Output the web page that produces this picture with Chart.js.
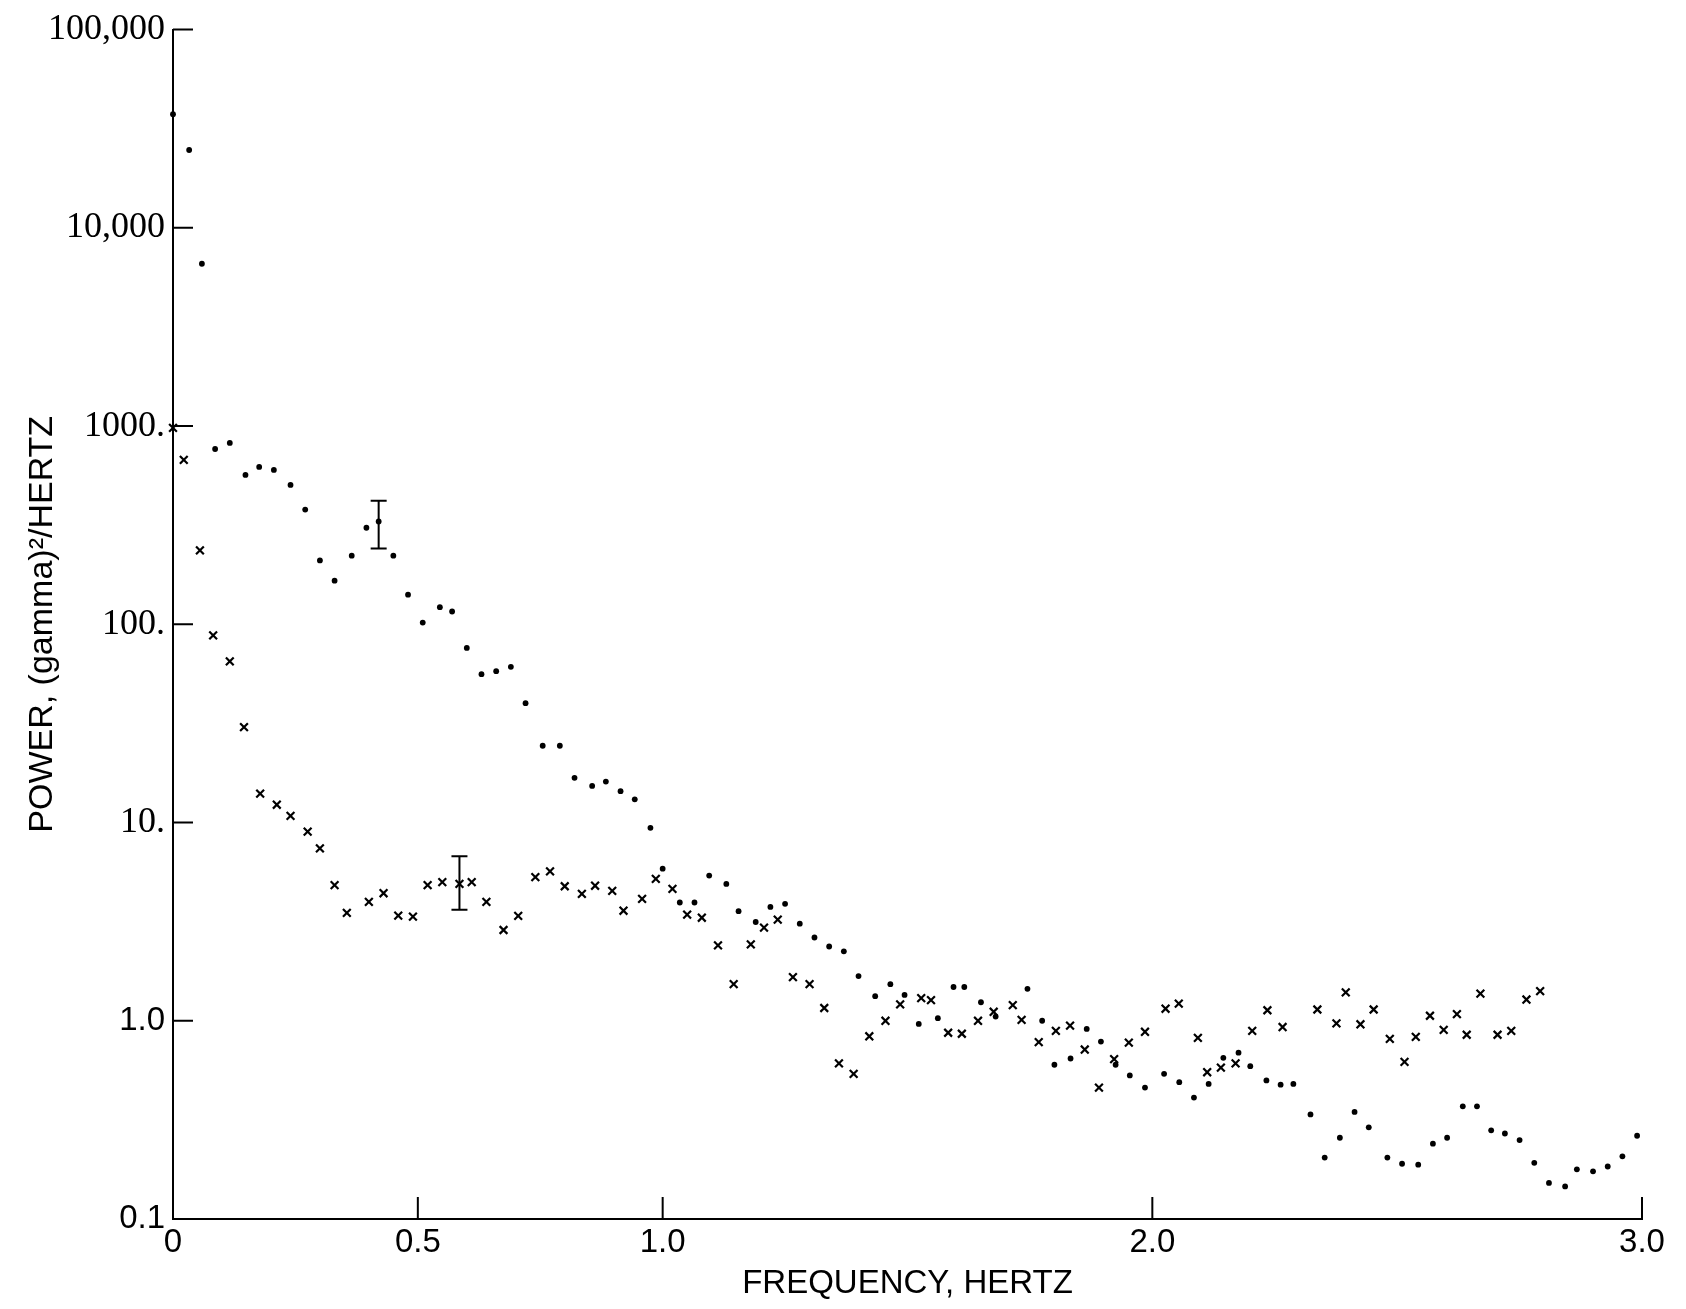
<!DOCTYPE html>
<html>
<head>
<meta charset="utf-8">
<script src="https://cdn.jsdelivr.net/npm/chart.js@4.4.0/dist/chart.umd.min.js"></script>
<style>
  html, body { margin: 0; padding: 0; background: #fff; }
  #wrap { width: 1686px; height: 1309px; }
</style>
</head>
<body>
<div id="wrap"><canvas id="grafico"></canvas></div>
<script>
// dot series: frequency (Hz) and power
const dotFreq = [0.0, 0.033, 0.059, 0.086, 0.116, 0.148, 0.176, 0.206, 0.24, 0.27,
  0.30, 0.33, 0.365, 0.395, 0.42, 0.45, 0.48, 0.51, 0.545, 0.57,
  0.60, 0.63, 0.66, 0.69, 0.72, 0.755, 0.79, 0.82, 0.856, 0.884,
  0.914, 0.943, 0.975, 1.0, 1.035, 1.065, 1.095, 1.13, 1.155, 1.19,
  1.22, 1.25, 1.28, 1.31, 1.34, 1.37, 1.40, 1.434, 1.465, 1.494,
  1.523, 1.562, 1.594, 1.616, 1.65, 1.68, 1.745, 1.775, 1.80, 1.833,
  1.866, 1.895, 1.925, 1.954, 1.985, 2.024, 2.055, 2.085, 2.115, 2.145,
  2.176, 2.2, 2.233, 2.262, 2.288, 2.323, 2.352, 2.383, 2.413, 2.442,
  2.48, 2.51, 2.543, 2.573, 2.602, 2.634, 2.663, 2.692, 2.72, 2.75,
  2.78, 2.81, 2.843, 2.867, 2.9, 2.93, 2.96, 2.99];
const dotPower = [37400, 24700, 6590, 766, 822, 567, 622, 601, 505, 379,
  210, 166, 222, 307, 330, 222, 141, 102, 122, 116,
  76, 56, 58, 61, 40, 24.4, 24.4, 16.8, 15.3, 16.1,
  14.4, 13.1, 9.4, 5.85, 3.95, 3.95, 5.4, 4.9, 3.57, 3.15,
  3.75, 3.89, 3.09, 2.63, 2.37, 2.24, 1.68, 1.33, 1.53, 1.35,
  0.964, 1.03, 1.48, 1.48, 1.24, 1.05, 1.45, 1.0, 0.60, 0.645,
  0.91, 0.785, 0.60, 0.53, 0.46, 0.54, 0.49, 0.41, 0.48, 0.65,
  0.69, 0.59, 0.50, 0.476, 0.48, 0.337, 0.204, 0.257, 0.347, 0.29,
  0.204, 0.19, 0.188, 0.24, 0.257, 0.37, 0.37, 0.28, 0.27, 0.25,
  0.192, 0.152, 0.146, 0.178, 0.174, 0.184, 0.207, 0.263];

// x-mark series
const crossFreq = [0.0, 0.022, 0.055, 0.082, 0.116, 0.145, 0.178, 0.212, 0.24, 0.275,
  0.30, 0.33, 0.355, 0.40, 0.43, 0.46, 0.49, 0.52, 0.55, 0.585,
  0.61, 0.64, 0.675, 0.705, 0.74, 0.77, 0.80, 0.835, 0.862, 0.897,
  0.92, 0.958, 0.986, 1.02, 1.05, 1.08, 1.113, 1.145, 1.18, 1.207,
  1.235, 1.266, 1.30, 1.33, 1.36, 1.39, 1.422, 1.455, 1.485, 1.528,
  1.548, 1.583, 1.611, 1.644, 1.676, 1.715, 1.733, 1.768, 1.803, 1.832,
  1.862, 1.891, 1.922, 1.952, 1.985, 2.027, 2.054, 2.093, 2.112, 2.14,
  2.17, 2.204, 2.235, 2.266, 2.337, 2.376, 2.395, 2.425, 2.452, 2.485,
  2.515, 2.538, 2.567, 2.595, 2.622, 2.642, 2.67, 2.705, 2.733, 2.764,
  2.792];
const crossPower = [980, 675, 236, 88, 65, 30.3, 14.0, 12.3, 10.8, 9.0,
  7.4, 4.83, 3.5, 3.98, 4.4, 3.39, 3.35, 4.83, 5.0, 4.9,
  5.0, 3.98, 2.87, 3.38, 5.3, 5.67, 4.77, 4.37, 4.8, 4.52,
  3.59, 4.12, 5.2, 4.63, 3.43, 3.31, 2.4, 1.53, 2.43, 2.95,
  3.24, 1.66, 1.53, 1.16, 0.61, 0.54, 0.835, 1.0, 1.21, 1.30,
  1.27, 0.87, 0.86, 1.0, 1.11, 1.2, 1.01, 0.78, 0.89, 0.945,
  0.716, 0.46, 0.64, 0.776, 0.88, 1.15, 1.22, 0.82, 0.55, 0.58,
  0.61, 0.89, 1.13, 0.93, 1.14, 0.97, 1.39, 0.96, 1.14, 0.81,
  0.62, 0.83, 1.06, 0.90, 1.08, 0.85, 1.37, 0.85, 0.89, 1.28,
  1.41];

// error bars
const errFreq = [0.42, 0.585];
const errLow = [241, 3.63];
const errHigh = [420, 6.76];

// axes
const xTicks = [0, 0.5, 1.0, 2.0, 3.0];
const xTickLabels = ['0', '0.5', '1.0', '2.0', '3.0'];
const yTicks = [0.1, 1, 10, 100, 1000, 10000, 100000];
const yTickLabels = ['0.1', '1.0', '10.', '100.', '1000.', '10,000', '100,000'];

const sansNarrow = '"Liberation Sans Narrow", "Liberation Sans", Arial, sans-serif';
const serif = '"Liberation Serif", "DejaVu Serif", serif';

const pontos = (fx, fy) => fx.map((f, i) => ({ x: f, y: fy[i] }));

const marcasInternas = {
  id: 'marcasInternas',
  afterDraw(chart) {
    const { ctx, chartArea, scales } = chart;
    const x = scales.x, y = scales.y;
    ctx.save();
    ctx.strokeStyle = '#000';
    ctx.lineWidth = 2;
    ctx.beginPath();
    yTicks.forEach(v => {
      const py = y.getPixelForValue(v);
      ctx.moveTo(chartArea.left, py);
      ctx.lineTo(chartArea.left + 20, py);
    });
    xTicks.forEach(v => {
      const px = x.getPixelForValue(v);
      ctx.moveTo(px, chartArea.bottom);
      ctx.lineTo(px, chartArea.bottom - 22);
    });
    // error bars
    errFreq.forEach((f, i) => {
      const px = x.getPixelForValue(f);
      const y1 = y.getPixelForValue(errLow[i]);
      const y2 = y.getPixelForValue(errHigh[i]);
      ctx.moveTo(px, y1); ctx.lineTo(px, y2);
      ctx.moveTo(px - 8, y1); ctx.lineTo(px + 8, y1);
      ctx.moveTo(px - 8, y2); ctx.lineTo(px + 8, y2);
    });
    ctx.stroke();
    ctx.restore();
  }
};

new Chart(document.getElementById('grafico'), {
  type: 'scatter',
  data: {
    datasets: [
      {
        label: 'dots',
        data: pontos(dotFreq, dotPower),
        pointStyle: 'circle',
        pointRadius: 2.9,
        backgroundColor: '#000',
        borderColor: '#000',
        borderWidth: 0,
        clip: false
      },
      {
        label: 'x',
        data: pontos(crossFreq, crossPower),
        pointStyle: 'crossRot',
        pointRadius: 5.5,
        borderColor: '#000',
        borderWidth: 2.2,
        clip: false
      }
    ]
  },
  options: {
    responsive: true,
    maintainAspectRatio: false,
    animation: false,
    layout: { padding: { left: 0, right: 44, top: 26, bottom: 0 } },
    plugins: {
      legend: { display: false },
      tooltip: { enabled: false }
    },
    scales: {
      x: {
        type: 'linear',
        min: 0,
        max: 3,
        afterBuildTicks: (s) => { s.ticks = xTicks.map(v => ({ value: v })); },
        afterFit: (s) => { s.height = 90; },
        grid: { display: false, drawTicks: false },
        border: { display: true, color: '#000', width: 2 },
        ticks: {
          padding: 4,
          color: '#000',
          font: { family: sansNarrow, size: 33 },
          maxRotation: 0,
          callback: (v, i) => xTickLabels[i]
        },
        title: {
          display: true,
          text: 'FREQUENCY, HERTZ',
          color: '#000',
          font: { family: sansNarrow, size: 33 },
          padding: { top: 0, bottom: 5 }
        }
      },
      y: {
        type: 'logarithmic',
        min: 0.1,
        max: 100000,
        afterBuildTicks: (s) => { s.ticks = yTicks.map(v => ({ value: v })); },
        afterFit: (s) => { s.width = 173; },
        grid: { display: false, drawTicks: false },
        border: { display: true, color: '#000', width: 2 },
        ticks: {
          padding: 8,
          color: '#000',
          font: (c) => ({
            family: (c.tick && c.tick.value <= 1) ? sansNarrow : serif,
            size: (c.tick && c.tick.value <= 1) ? 33 : 36
          }),
          callback: (v, i) => yTickLabels[i]
        },
        title: {
          display: true,
          text: 'POWER, (gamma)²/HERTZ',
          color: '#000',
          font: { family: sansNarrow, size: 34 },
          padding: { top: 22, bottom: 0 }
        }
      }
    }
  },
  plugins: [marcasInternas]
});
</script>
</body>
</html>
